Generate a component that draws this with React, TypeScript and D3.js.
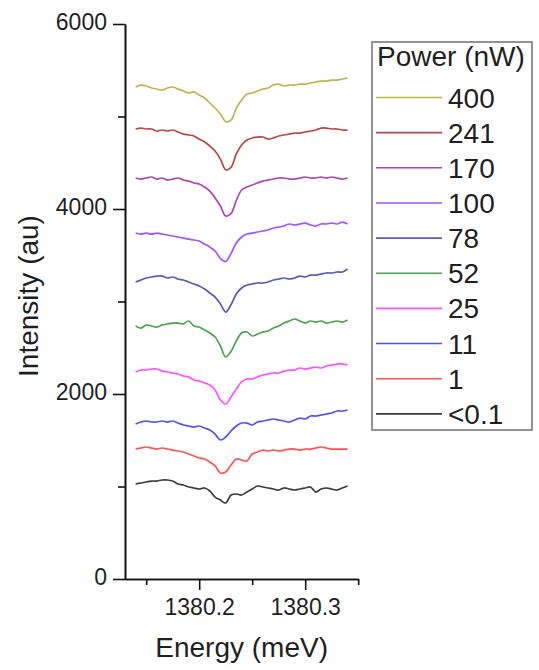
import React, { useEffect, useRef } from "react";
import * as d3 from "d3";

// Energy grid (meV)
const energies = [
  1380.140, 1380.145, 1380.150, 1380.155, 1380.160, 1380.165, 1380.170, 1380.175, 1380.180, 1380.185,
  1380.190, 1380.195, 1380.200, 1380.205, 1380.210, 1380.215, 1380.220, 1380.225, 1380.230, 1380.235,
  1380.240, 1380.245, 1380.250, 1380.255, 1380.260, 1380.265, 1380.270, 1380.275, 1380.280, 1380.285,
  1380.290, 1380.295, 1380.300, 1380.305, 1380.310, 1380.315, 1380.320, 1380.325, 1380.330, 1380.335,
  1380.340,
];

const p400 = [5319, 5340, 5330, 5308, 5297, 5286, 5308, 5319, 5297, 5275, 5254, 5265, 5232, 5200, 5146, 5092, 5027, 4945, 4960, 5090, 5178, 5243, 5254, 5275, 5297, 5308, 5340, 5351, 5330, 5340, 5340, 5351, 5351, 5362, 5373, 5383, 5383, 5394, 5394, 5405, 5416];
const p241 = [4865, 4875, 4865, 4865, 4843, 4854, 4843, 4854, 4832, 4810, 4800, 4789, 4756, 4724, 4681, 4627, 4540, 4425, 4450, 4595, 4692, 4746, 4767, 4778, 4778, 4756, 4767, 4789, 4800, 4810, 4821, 4821, 4832, 4843, 4854, 4875, 4875, 4865, 4865, 4854, 4854];
const p170 = [4335, 4324, 4335, 4346, 4324, 4335, 4313, 4324, 4335, 4313, 4302, 4281, 4270, 4238, 4194, 4119, 4032, 3924, 3950, 4090, 4205, 4238, 4259, 4281, 4302, 4313, 4324, 4335, 4335, 4324, 4324, 4335, 4346, 4335, 4335, 4346, 4335, 4346, 4335, 4324, 4335];
const p100 = [3740, 3729, 3740, 3729, 3740, 3729, 3719, 3708, 3697, 3686, 3675, 3665, 3654, 3621, 3589, 3546, 3465, 3432, 3520, 3632, 3697, 3729, 3740, 3751, 3762, 3773, 3794, 3805, 3816, 3838, 3827, 3838, 3848, 3827, 3816, 3838, 3838, 3848, 3838, 3859, 3838];
const p78 = [3211, 3232, 3254, 3265, 3275, 3275, 3254, 3265, 3243, 3232, 3211, 3189, 3167, 3135, 3092, 3048, 2973, 2886, 2965, 3081, 3146, 3178, 3189, 3200, 3200, 3211, 3232, 3243, 3254, 3243, 3254, 3275, 3265, 3286, 3286, 3297, 3308, 3308, 3319, 3319, 3351];
const p52 = [2735, 2713, 2746, 2735, 2724, 2746, 2757, 2767, 2767, 2757, 2789, 2735, 2724, 2692, 2659, 2616, 2519, 2400, 2460, 2573, 2659, 2670, 2627, 2648, 2670, 2681, 2713, 2735, 2767, 2789, 2811, 2789, 2767, 2789, 2778, 2789, 2767, 2778, 2789, 2778, 2800];
const p25 = [2238, 2259, 2259, 2270, 2270, 2248, 2238, 2227, 2216, 2194, 2184, 2151, 2140, 2119, 2097, 2043, 1935, 1892, 1967, 2054, 2130, 2162, 2162, 2184, 2205, 2216, 2227, 2227, 2248, 2259, 2259, 2281, 2270, 2281, 2292, 2281, 2303, 2313, 2324, 2324, 2313];
const p11 = [1676, 1697, 1708, 1697, 1697, 1708, 1697, 1708, 1686, 1665, 1654, 1643, 1654, 1632, 1611, 1567, 1503, 1535, 1600, 1654, 1686, 1686, 1665, 1697, 1708, 1719, 1730, 1719, 1708, 1697, 1719, 1740, 1730, 1762, 1762, 1773, 1784, 1794, 1816, 1816, 1827];
const p1 = [1405, 1416, 1427, 1416, 1405, 1416, 1405, 1394, 1384, 1373, 1351, 1330, 1308, 1297, 1265, 1222, 1146, 1157, 1232, 1297, 1286, 1276, 1351, 1373, 1394, 1384, 1394, 1384, 1394, 1405, 1405, 1394, 1405, 1405, 1416, 1427, 1416, 1405, 1405, 1405, 1405];
const p01 = [1027, 1038, 1049, 1059, 1059, 1070, 1070, 1059, 1027, 1016, 995, 984, 973, 984, 951, 886, 854, 822, 908, 919, 908, 940, 973, 1005, 995, 984, 973, 962, 984, 973, 962, 973, 984, 995, 940, 973, 984, 973, 962, 984, 1005];

const powerLabels = ["400", "241", "170", "100", "78", "52", "25", "11", "1", "<0.1"];
const seriesValues = [p400, p241, p170, p100, p78, p52, p25, p11, p1, p01];
const seriesColors = ["#b8b84a", "#b84848", "#a848b0", "#a352ff", "#5a5abc", "#4fa24f", "#ff50ff", "#5050ff", "#ff5252", "#3c3c3c"];

const yMajorTicks = [0, 2000, 4000, 6000];
const yMinorTicks = [1000, 3000, 5000];
const xMajorTicks = [1380.2, 1380.3];
const xMinorTicks = [1380.15, 1380.25, 1380.35];

const FONT = "'Liberation Sans', Arial, Helvetica, sans-serif";

export default function App() {
  const xAxisRef = useRef<SVGGElement>(null);
  const yAxisRef = useRef<SVGGElement>(null);

  const x = d3.scaleLinear().domain([1380.13, 1380.35]).range([125, 358.2]);
  const y = d3.scaleLinear().domain([0, 6000]).range([579, 24]);

  useEffect(() => {
    const gx = d3.select(xAxisRef.current);
    gx.selectAll("*").remove();
    gx.append("g").call(
      d3.axisBottom(x).tickValues(xMinorTicks).tickSize(6).tickFormat(() => "").tickSizeOuter(0)
    );
    gx.append("g").call(
      d3.axisBottom(x).tickValues(xMajorTicks).tickSize(11).tickSizeOuter(0).tickPadding(9).tickFormat(d3.format(".1f"))
    );
    gx.selectAll("path.domain").attr("stroke", "#111").attr("stroke-width", 1.6);
    gx.selectAll("line").attr("stroke", "#111").attr("stroke-width", 1.6);
    gx.selectAll("text").attr("font-size", 23).attr("font-family", FONT).attr("fill", "#1f1f1f");

    const gy = d3.select(yAxisRef.current);
    gy.selectAll("*").remove();
    gy.append("g").call(
      d3.axisLeft(y).tickValues(yMinorTicks).tickSize(7).tickFormat(() => "").tickSizeOuter(0)
    );
    gy.append("g").call(
      d3.axisLeft(y).tickValues(yMajorTicks).tickSize(12).tickSizeOuter(0).tickPadding(6).tickFormat(d3.format("d"))
    );
    gy.selectAll("path.domain").attr("stroke", "#111").attr("stroke-width", 1.6);
    gy.selectAll("line").attr("stroke", "#111").attr("stroke-width", 1.6);
    gy.selectAll("text").attr("font-size", 23).attr("font-family", FONT).attr("fill", "#1f1f1f").attr("dy", "0.25em");
  }, []);

  const line = d3
    .line<number>()
    .x((_, i) => x(energies[i]))
    .y((d) => y(d))
    .curve(d3.curveCatmullRom.alpha(0.5));

  const legendX = 372;
  const legendTop = 42;
  const legendFirst = 97.5;
  const legendStep = 35.15;

  return (
    <svg
      width={539}
      height={670}
      style={{ position: "absolute", left: 0, top: 0, background: "#fff" }}
      fontFamily={FONT}
    >
      <rect x={0} y={0} width={539} height={670} fill="#fff" />
      {seriesValues.map((vals, k) => (
        <path key={powerLabels[k]} d={line(vals) || ""} fill="none" stroke={seriesColors[k]} strokeWidth={1.7} strokeLinejoin="round" />
      ))}
      <g ref={xAxisRef} transform={`translate(0,${y(0)})`} />
      <g ref={yAxisRef} transform={`translate(${x(1380.13)},0)`} />
      <text x={(125 + 358.2) / 2} y={657} textAnchor="middle" fontSize={28} fill="#1f1f1f">
        Energy (meV)
      </text>
      <text transform={`translate(38,296) rotate(-90)`} textAnchor="middle" fontSize={28} fill="#1f1f1f">
        Intensity (au)
      </text>
      <rect x={legendX} y={legendTop} width={160} height={388} fill="#fff" stroke="#777" strokeWidth={1.6} />
      <text x={377} y={66} fontSize={28} fill="#1f1f1f">Power (nW)</text>
      {powerLabels.map((lab, k) => {
        const ly = legendFirst + k * legendStep;
        return (
          <g key={lab}>
            <line x1={376} x2={442} y1={ly} y2={ly} stroke={seriesColors[k]} strokeWidth={1.6} />
            <text x={448} y={ly + 10} fontSize={28} fill="#1f1f1f">{lab}</text>
          </g>
        );
      })}
    </svg>
  );
}
